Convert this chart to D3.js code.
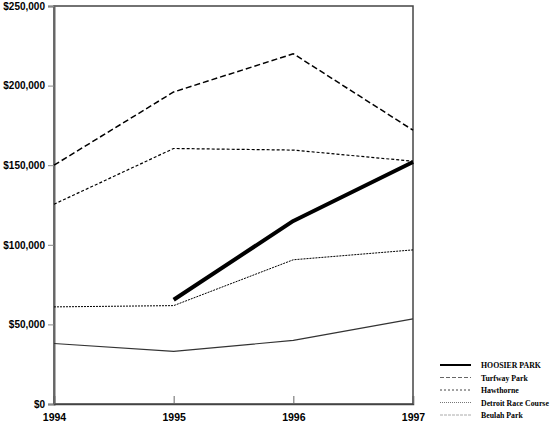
<!DOCTYPE html>
<html>
<head>
<meta charset="utf-8">
<script src="https://cdn.jsdelivr.net/npm/d3@7"></script>
<style>
  body { margin: 0; background: #fff; }
  svg { display: block; }
</style>
</head>
<body>
<div id="chart"></div>
<script>
const years = [1994, 1995, 1996, 1997];
const yTicks = [0, 50000, 100000, 150000, 200000, 250000];

const seriesNames = ["HOOSIER PARK", "Turfway Park", "Hawthorne", "Detroit Race Course", "Beulah Park"];
const hoosier = [null, 65500, 115000, 152000];
const turfway = [150000, 196000, 220000, 172000];
const hawthorne = [125500, 160500, 159500, 152500];
const detroit = [61000, 61800, 90600, 96800];
const beulah = [38000, 33000, 40000, 53500];

const styles = [
  {color: "#000", width: 4, dash: null, legWidth: 2, legColor: "#000", legDash: null},
  {color: "#000", width: 1.5, dash: "6,3", legWidth: 1, legColor: "#666", legDash: "4,2"},
  {color: "#000", width: 1.2, dash: "3,2", legWidth: 1, legColor: "#444", legDash: "2,2"},
  {color: "#000", width: 1, dash: "2,1", legWidth: 1, legColor: "#777", legDash: "1,1"},
  {color: "#333", width: 1.2, dash: null, legWidth: 1, legColor: "#aaa", legDash: "3,1"}
];

const allSeries = [hoosier, turfway, hawthorne, detroit, beulah];

const margin = {top: 6, right: 137, bottom: 21, left: 54};
const W = 550, H = 425;
const width = W - margin.left - margin.right;
const height = H - margin.top - margin.bottom;

const svg = d3.select("#chart").append("svg")
    .attr("width", W)
    .attr("height", H);

const g = svg.append("g")
    .attr("transform", `translate(${margin.left},${margin.top})`);

const x = d3.scaleLinear().domain([1994, 1997]).range([0, width]);
const y = d3.scaleLinear().domain([0, 250000]).range([height, 0]);

// frame
g.append("rect")
    .attr("x", 0).attr("y", 0)
    .attr("width", width).attr("height", height)
    .attr("fill", "none")
    .attr("stroke", "#444")
    .attr("stroke-width", 1.5);

// y axis
const yAxis = g.append("g")
    .call(d3.axisLeft(y).tickValues(yTicks).tickSize(6).tickPadding(3)
        .tickFormat(d => "$" + d3.format(",")(d)));
yAxis.select(".domain").attr("stroke", "#666").attr("stroke-width", 2);
yAxis.selectAll(".tick line").attr("stroke", "#888");
yAxis.selectAll("text")
    .attr("font-family", "Liberation Sans, Arial, sans-serif")
    .attr("font-weight", "bold")
    .attr("font-size", 10)
    .attr("fill", "#000");

// x axis
const xAxis = g.append("g")
    .attr("transform", `translate(0,${height})`)
    .call(d3.axisBottom(x).tickValues(years).tickSize(-8).tickPadding(10)
        .tickFormat(d3.format("d")));
xAxis.select(".domain").attr("stroke", "#444").attr("stroke-width", 1.5);
xAxis.selectAll(".tick line").attr("stroke", "#666");
xAxis.selectAll("text")
    .attr("font-family", "Liberation Sans, Arial, sans-serif")
    .attr("font-weight", "bold")
    .attr("font-size", 10.5)
    .attr("fill", "#000");

const line = d3.line()
    .defined(d => d != null)
    .x((d, i) => x(years[i]))
    .y(d => y(d));

// draw back to front so the thick line sits on top
for (let k = allSeries.length - 1; k >= 0; k--) {
    const s = styles[k];
    g.append("path")
        .datum(allSeries[k])
        .attr("fill", "none")
        .attr("stroke", s.color)
        .attr("stroke-width", s.width)
        .attr("stroke-dasharray", s.dash)
        .attr("stroke-linejoin", "round")
        .attr("d", line);
}

// legend
const legend = svg.append("g").attr("transform", "translate(440,365)");
seriesNames.forEach((name, i) => {
    const s = styles[i];
    const row = legend.append("g").attr("transform", `translate(0,${i * 12.5})`);
    row.append("line")
        .attr("x1", 0).attr("x2", 31)
        .attr("y1", 0).attr("y2", 0)
        .attr("stroke", s.legColor)
        .attr("stroke-width", s.legWidth)
        .attr("stroke-dasharray", s.legDash);
    row.append("text")
        .attr("x", 41).attr("y", 3)
        .attr("font-family", "Liberation Serif, Times New Roman, serif")
        .attr("font-weight", "bold")
        .attr("font-size", 7.8)
        .text(name);
});
</script>
</body>
</html>
